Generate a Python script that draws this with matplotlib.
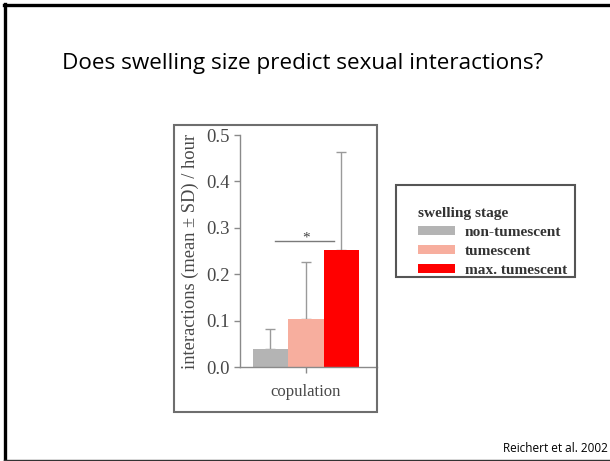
import matplotlib
matplotlib.use("Agg")
import matplotlib.pyplot as plt
from matplotlib.patches import Rectangle
from matplotlib.lines import Line2D

# ---- data ----
stages = ["non-tumescent", "tumescent", "max. tumescent"]
means = [0.038, 0.103, 0.252]
sds = [0.044, 0.124, 0.211]
bar_colors = ["#b4b4b4", "#f7ae9e", "#ff0000"]
category = "copulation"
yticks = [0.0, 0.1, 0.2, 0.3, 0.4, 0.5]
ytick_labels = ["0.0", "0.1", "0.2", "0.3", "0.4", "0.5"]
sig_y = 0.272
sig_x = [0.13, 1.8]

W, H = 610, 461
fig = plt.figure(figsize=(W / 100, H / 100), dpi=100)
fig.patch.set_facecolor("white")

def px(x, y):
    return x / W, 1 - y / H

# slide frame
fig.add_artist(Line2D([5 / W, 5 / W], [1 - 4 / H, 1 - 460 / H], transform=fig.transFigure, color="black", lw=2.4))
fig.add_artist(Line2D([4 / W, 1], [1 - 5.5 / H, 1 - 5.5 / H], transform=fig.transFigure, color="black", lw=2.4))
fig.add_artist(Line2D([4 / W, 1], [1 - 459.5 / H, 1 - 459.5 / H], transform=fig.transFigure, color="#333333", lw=1.0))

# title & citation
fig.text(303 / W, 1 - 64 / H, "Does swelling size predict sexual interactions?", ha="center", va="center",
         fontsize=16.2, family="Open Sans", color="black")
fig.text(608 / W, 1 - 448 / H, "Reichert et al. 2002", ha="right", va="center",
         fontsize=8.5, family="Open Sans", color="black")

# image box around chart
x0, y0 = px(174, 412)
x1, y1 = px(377, 125)
fig.add_artist(Rectangle((x0, y0), x1 - x0, y1 - y0, transform=fig.transFigure,
                         fill=False, edgecolor="#6e6e6e", lw=1.5))

# axes
ax_l, ax_b = px(240, 367)
ax_r, ax_t = px(377, 135)
ax = fig.add_axes([ax_l, ax_b, ax_r - ax_l, ax_t - ax_b])
xs = list(range(len(means)))
bars = ax.bar(xs, means, width=1.0, color=bar_colors, edgecolor="none", zorder=2)
ax.errorbar(xs, means, yerr=[[0] * len(sds), sds], fmt="none", ecolor="#9a9a9a",
            elinewidth=1.0, capsize=3.3, capthick=1.0, zorder=1)
ax.set_xlim(-0.86, 3.01)
ax.set_ylim(0, 0.5)
ax.set_yticks(yticks)
ax.set_yticklabels(ytick_labels)
ax.set_xticks([1])
ax.set_xticklabels([category])
for s in ["top", "right"]:
    ax.spines[s].set_visible(False)
for s in ["left", "bottom"]:
    ax.spines[s].set_color("#8a8a8a")
    ax.spines[s].set_linewidth(1.0)
ax.tick_params(axis="both", colors="#8a8a8a", length=4, width=1.0, labelcolor="#484848",
               labelsize=13.5)
ax.tick_params(axis="x", pad=8, labelsize=12)
for lab in ax.get_xticklabels() + ax.get_yticklabels():
    lab.set_family("Liberation Serif")
ax.set_ylabel("interactions (mean \u00b1 SD) / hour", family="Liberation Serif", fontsize=13.3,
              color="#484848", labelpad=5)
ax.patch.set_alpha(0)

# significance
ax.plot(sig_x, [sig_y, sig_y], color="#7a7a7a", lw=1.0, clip_on=False)
ax.text(1.0, sig_y - 0.008, "*", ha="center", va="bottom", fontsize=11, family="Liberation Serif",
        color="#444444")

# legend box
lx0, ly0 = px(396, 277)
lx1, ly1 = px(575, 185)
fig.add_artist(Rectangle((lx0, ly0), lx1 - lx0, ly1 - ly0, transform=fig.transFigure,
                         fill=False, edgecolor="#555555", lw=1.5))
leg = fig.legend(bars, stages, title="swelling stage", loc="upper left",
                 bbox_to_anchor=px(406, 195), frameon=False, alignment="left",
                 prop={"family": "Liberation Serif", "weight": "bold", "size": 11.1},
                 title_fontproperties={"family": "Liberation Serif", "weight": "bold", "size": 11.1},
                 handlelength=2.35, handleheight=0.5, labelspacing=0.38, handletextpad=0.65,
                 borderpad=0.3)
for t in leg.get_texts():
    t.set_color("#333333")
leg.get_title().set_color("#333333")

fig.savefig("out.png", dpi=100)
